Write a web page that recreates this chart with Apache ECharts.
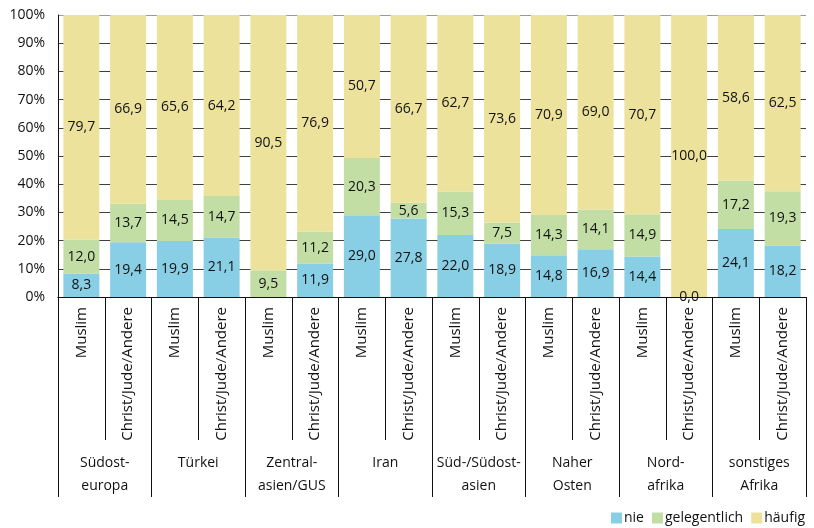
<!DOCTYPE html>
<html><head><meta charset="utf-8">
<script src="https://cdn.jsdelivr.net/npm/echarts@6/dist/echarts.min.js"></script>
<style>html,body{margin:0;padding:0;background:#fff}#c{width:814px;height:528px}</style>
</head><body><div id="c"></div>
<script>
const groups = ['Südost-\neuropa','Türkei','Zentral-\nasien/GUS','Iran','Süd-/Südost-\nasien','Naher\nOsten','Nord-\nafrika','sonstiges\nAfrika'];
const subcats = ['Muslim','Christ/Jude/Andere','Muslim','Christ/Jude/Andere','Muslim','Christ/Jude/Andere','Muslim','Christ/Jude/Andere','Muslim','Christ/Jude/Andere','Muslim','Christ/Jude/Andere','Muslim','Christ/Jude/Andere','Muslim','Christ/Jude/Andere'];
const nie =          [8.3, 19.4, 19.9, 21.1, null, 11.9, 29.0, 27.8, 22.0, 18.9, 14.8, 16.9, 14.4, 0.0, 24.1, 18.2];
const gelegentlich = [12.0, 13.7, 14.5, 14.7, 9.5, 11.2, 20.3, 5.6, 15.3, 7.5, 14.3, 14.1, 14.9, null, 17.2, 19.3];
const haeufig =      [79.7, 66.9, 65.6, 64.2, 90.5, 76.9, 50.7, 66.7, 62.7, 73.6, 70.9, 69.0, 70.7, 100.0, 58.6, 62.5];
const seriesNames = ['nie','gelegentlich','häufig'];
const yTicks = [0,10,20,30,40,50,60,70,80,90,100];

const FONT = 'Open Sans';
const colors = ['#88cee4','#c2dea5','#ede29c'];
const lbl = {show:true, position:'inside', color:'#111', fontFamily:FONT, fontSize:14,
  formatter: p => (p.value==null ? '' : p.value.toFixed(1).replace('.',','))};
const gridColors = yTicks.map(v => v === 100 ? '#9a9a9a' : '#404040');
const chart = echarts.init(document.getElementById('c'));
chart.setOption({
  animation:false,
  textStyle:{fontFamily:FONT},
  grid:{left:58, right:8, top:15, bottom:231, containLabel:false},
  legend:{data:seriesNames, right:4, top:506, itemWidth:11, itemHeight:11, itemGap:8,
    textStyle:{fontFamily:FONT, fontSize:14, color:'#111', padding:[0,0,0,-3]}, icon:'rect'},
  xAxis:[
    {type:'category', data:subcats, position:'bottom',
     axisLine:{show:true, lineStyle:{color:'#111', width:1}},
     axisTick:{show:true, interval:0, length:143, lineStyle:{color:'#111'}},
     axisLabel:{interval:0, rotate:90, margin:10, fontFamily:FONT, fontSize:15, color:'#111'}},
    {type:'category', data:groups, position:'bottom',
     axisLine:{show:true, lineStyle:{color:'#111', width:1}},
     axisTick:{show:true, interval:0, length:200, lineStyle:{color:'#111'}},
     axisLabel:{interval:0, margin:155, fontFamily:FONT, fontSize:14, color:'#111', lineHeight:23}}
  ],
  yAxis:{type:'value', min:0, max:100, interval:10,
    axisLine:{show:true, lineStyle:{color:'#111'}},
    axisTick:{show:false},
    splitLine:{show:true, lineStyle:{color:gridColors, width:1}},
    axisLabel:{formatter: v => yTicks.includes(v) ? v+'%' : '', margin:13, fontFamily:FONT, fontSize:14, color:'#111'}},
  series:[
    {name:seriesNames[0], type:'bar', stack:'s', data:nie, barWidth:'77%', itemStyle:{color:colors[0]}, label:lbl},
    {name:seriesNames[1], type:'bar', stack:'s', data:gelegentlich, itemStyle:{color:colors[1]}, label:lbl},
    {name:seriesNames[2], type:'bar', stack:'s', data:haeufig, itemStyle:{color:colors[2]}, label:lbl}
  ]
});
</script></body></html>
